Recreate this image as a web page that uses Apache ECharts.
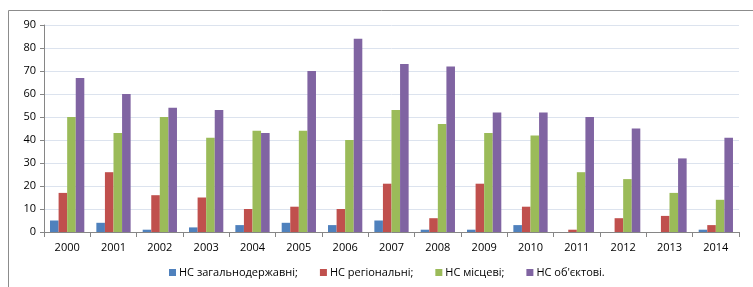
<!DOCTYPE html>
<html>
<head>
<meta charset="utf-8">
<script src="https://cdn.jsdelivr.net/npm/echarts@6/dist/echarts.min.js"></script>
<style>
  html, body { margin: 0; padding: 0; background: #fff; }
  #chart { width: 753px; height: 287px; }
</style>
</head>
<body>
<div id="chart"></div>
<script>
// роки та кількість НС за рівнями
var years = ['2000', '2001', '2002', '2003', '2004', '2005', '2006', '2007',
             '2008', '2009', '2010', '2011', '2012', '2013', '2014'];
var zagalnoderzhavni = [5, 4, 1, 2, 3, 4, 3, 5, 1, 1, 3, 0, 0, 0, 1];
var regionalni = [17, 26, 16, 15, 10, 11, 10, 21, 6, 21, 11, 1, 6, 7, 3];
var mistsevi = [50, 43, 50, 41, 44, 44, 40, 53, 47, 43, 42, 26, 23, 17, 14];
var obiektovi = [67, 60, 54, 53, 43, 70, 84, 73, 72, 52, 52, 50, 45, 32, 41];
var seriesNames = ['НС загальнодержавні;', 'НС регіональні;', 'НС місцеві;', 'НС об\'єктові.'];
var colors = ['#4F81BD', '#C0504D', '#9BBB59', '#8064A2'];

var font = '"Open Sans", "DejaVu Sans", sans-serif';
var chart = echarts.init(document.getElementById('chart'));

var dataSets = [zagalnoderzhavni, regionalni, mistsevi, obiektovi];
var series = dataSets.map(function (d, i) {
    return {
        name: seriesNames[i],
        type: 'bar',
        data: d,
        barGap: '0%',
        barCategoryGap: '26%',
        itemStyle: { color: colors[i] },
        animation: false
    };
});

chart.setOption({
    color: colors,
    animation: false,
    graphic: [{
        type: 'rect',
        shape: { x: 8.5, y: 10.5, width: 800, height: 400 },
        style: { fill: null, stroke: '#8c8c8c', lineWidth: 1 },
        silent: true
    }],
    grid: { left: 44, right: 14, top: 25, bottom: 55 },
    legend: {
        bottom: 4,
        left: 164,
        itemWidth: 7,
        itemHeight: 7,
        itemGap: 22,
        icon: 'rect',
        textStyle: { fontFamily: font, fontSize: 11, color: '#000', padding: [0, 0, 0, -2] },
        data: seriesNames
    },
    xAxis: {
        type: 'category',
        data: years,
        axisLine: { lineStyle: { color: '#868686' } },
        axisTick: { show: true, alignWithLabel: false, length: 5, lineStyle: { color: '#868686' } },
        axisLabel: { fontFamily: font, fontSize: 11, color: '#000', margin: 10 }
    },
    yAxis: {
        type: 'value',
        min: 0,
        max: 90,
        interval: 10,
        axisLine: { show: true, lineStyle: { color: '#868686' } },
        axisTick: { show: true, length: 4, lineStyle: { color: '#868686' } },
        axisLabel: { fontFamily: font, fontSize: 11, color: '#000', margin: 8 },
        splitLine: { lineStyle: { color: '#DCE3EE' } }
    },
    series: series
});
</script>
</body>
</html>
